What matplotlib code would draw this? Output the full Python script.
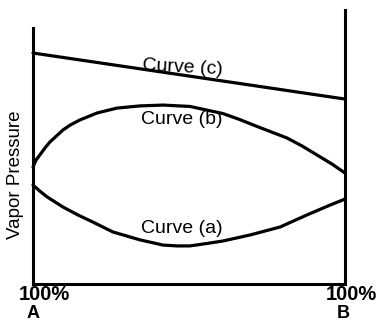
import matplotlib
matplotlib.use("Agg")
import matplotlib.pyplot as plt

plt.rcParams['font.family'] = ['Liberation Sans', 'DejaVu Sans']

# Composition (fraction of B) and vapor pressure (arbitrary units)
x_a = [0.0, 0.022, 0.045, 0.096, 0.144, 0.192, 0.256, 0.343, 0.417, 0.462, 0.503,
       0.558, 0.609, 0.696, 0.792, 0.878, 0.952, 1.0]
p_a = [36.1, 33.9, 31.8, 28.1, 25.2, 22.6, 19.0, 16.1, 14.2, 13.9, 13.9,
       14.8, 15.7, 17.9, 20.8, 25.2, 28.8, 31.0]

x_b = [0.0, 0.010, 0.022, 0.038, 0.054, 0.096, 0.119, 0.151, 0.205, 0.269, 0.343,
       0.417, 0.503, 0.609, 0.663, 0.718, 0.814, 0.862, 0.910, 0.958, 1.0]
p_b = [42.7, 45.3, 47.1, 49.6, 51.8, 56.2, 58.0, 59.9, 62.4, 64.2, 65.0,
       65.3, 64.8, 62.2, 60.0, 57.5, 53.3, 50.4, 47.1, 43.8, 40.5]

x_c = [0.0, 1.0]
p_c = [84.3, 67.5]

curve_labels = ["Curve (a)", "Curve (b)", "Curve (c)"]
label_pos = [(0.478, 20.4), (0.478, 59.9), (0.478, 78.8)]
label_rot = [0, 0, -3]

end_labels = [("100%", "A"), ("100%", "B")]

fig = plt.figure(figsize=(3.79, 3.22), dpi=100)
ax = fig.add_axes([33 / 379, 38 / 322, 312 / 379, 274 / 322])
ax.set_xlim(0, 1)
ax.set_ylim(0, 100)

lw = 2.3
for xs, ps in [(x_a, p_a), (x_b, p_b), (x_c, p_c)]:
    ax.plot(xs, ps, color='black', lw=lw, solid_capstyle='round',
            solid_joinstyle='round', clip_on=False)

for txt, (lx, ly), rot in zip(curve_labels, label_pos, label_rot):
    ax.text(lx, ly, txt, ha='center', va='center', fontsize=14,
            rotation=rot, color='black')

ax.spines['top'].set_visible(False)
for s in ['left', 'right', 'bottom']:
    ax.spines[s].set_linewidth(2.2)
ax.spines['left'].set_bounds(0, 93.4)
ax.set_xticks([])
ax.set_yticks([])

ax.set_ylabel("Vapor Pressure", fontsize=13.5)
ax.yaxis.set_label_coords(-0.030, 0.398)

trans = ax.get_xaxis_transform()
ax.text(0.035, -0.040, end_labels[0][0], transform=trans, ha='center', va='center',
        fontsize=14.5, fontweight='bold')
ax.text(0.0, -0.106, end_labels[0][1], transform=trans, ha='center', va='center',
        fontsize=13, fontweight='bold')
ax.text(1.019, -0.040, end_labels[1][0], transform=trans, ha='center', va='center',
        fontsize=14.5, fontweight='bold')
ax.text(0.994, -0.106, end_labels[1][1], transform=trans, ha='center', va='center',
        fontsize=13, fontweight='bold')

fig.savefig("out.png", dpi=100)
